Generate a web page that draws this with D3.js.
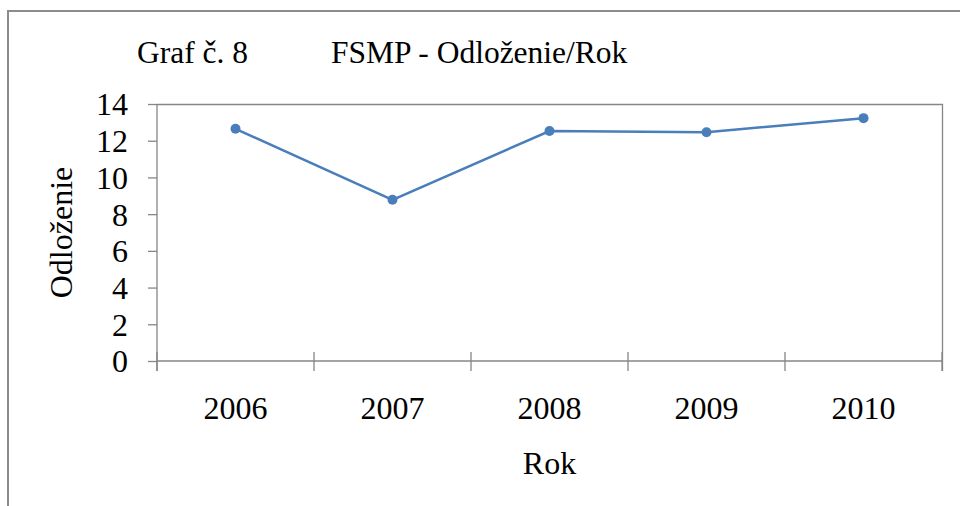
<!DOCTYPE html>
<html>
<head>
<meta charset="utf-8">
<title>graf8</title>
<script src="https://d3js.org/d3.v7.min.js"></script>
<style>
  body { margin: 0; background: #fff; }
  text { font-family: "Liberation Serif", "Times New Roman", serif; fill: #000; }
</style>
</head>
<body>
<svg width="960" height="506" id="mainsvg"></svg>
<script>
  const years = ['2006', '2007', '2008', '2009', '2010'];
  const values = [12.65, 8.78, 12.53, 12.46, 13.23];
  const yTicks = [0, 2, 4, 6, 8, 10, 12, 14];

  const svg = d3.select('#mainsvg');
  const margin = { top: 104, left: 157, right: 18, bottom: 145 };
  const width = 960 - margin.left - margin.right;
  const height = 506 - margin.top - margin.bottom;
  const axisColor = '#868686';
  const lineColor = '#4a7ebb';

  // outer chart frame (runs off the picture right and bottom)
  svg.append('rect')
    .attr('x', 8).attr('y', 11)
    .attr('width', 1000).attr('height', 600)
    .attr('fill', 'none')
    .attr('stroke', '#8c8c8c')
    .attr('stroke-width', 2);

  svg.append('text')
    .attr('x', 137).attr('y', 63)
    .style('font-size', '31.5px')
    .text('Graf č. 8');
  svg.append('text')
    .attr('x', 331).attr('y', 63)
    .style('font-size', '31.5px')
    .text('FSMP - Odloženie/Rok');

  const g = svg.append('g')
    .attr('transform', `translate(${margin.left},${margin.top})`);

  const x = d3.scaleBand().domain(years).range([0, width]);
  const y = d3.scaleLinear().domain([0, 14]).range([height, 0]);

  // plot area border (top and right)
  g.append('path')
    .attr('d', `M0,0.5H${width + 0.5}V${height + 10}`)
    .attr('fill', 'none')
    .attr('stroke', axisColor)
    .attr('stroke-width', 1.3);

  // y axis
  const yAxis = g.append('g')
    .call(d3.axisLeft(y).tickValues(yTicks).tickSize(9).tickPadding(20));
  yAxis.select('.domain').remove();
  yAxis.selectAll('line').attr('stroke', axisColor).attr('stroke-width', 1.3);
  yAxis.selectAll('text')
    .style('font-size', '32px')
    .style('font-family', '"Liberation Serif", serif')
    .attr('dy', '0.34em');
  g.append('line')
    .attr('x1', 0).attr('x2', 0)
    .attr('y1', 0).attr('y2', height + 10)
    .attr('stroke', axisColor).attr('stroke-width', 1.3);

  // x axis: crossing ticks at band boundaries
  g.append('line')
    .attr('x1', 0).attr('x2', width)
    .attr('y1', height).attr('y2', height)
    .attr('stroke', axisColor).attr('stroke-width', 1.3);
  const bounds = years.map(d => x(d)).concat([width]);
  g.selectAll('.xtick').data(bounds).enter().append('line')
    .attr('class', 'xtick')
    .attr('x1', d => d).attr('x2', d => d)
    .attr('y1', height - 9).attr('y2', height + 10)
    .attr('stroke', axisColor).attr('stroke-width', 1.3);
  g.selectAll('.xlab').data(years).enter().append('text')
    .attr('class', 'xlab')
    .attr('x', d => x(d) + x.bandwidth() / 2)
    .attr('y', height + 58)
    .attr('text-anchor', 'middle')
    .style('font-size', '32px')
    .text(d => d);

  // axis titles
  svg.append('text')
    .attr('x', margin.left + width / 2).attr('y', 474)
    .attr('text-anchor', 'middle')
    .style('font-size', '32px')
    .text('Rok');
  svg.append('text')
    .attr('transform', `translate(72,${margin.top + height / 2}) rotate(-90)`)
    .attr('text-anchor', 'middle')
    .style('font-size', '32px')
    .text('Odloženie');

  // series
  const pts = years.map((d, i) => ({ year: d, v: values[i] }));
  const line = d3.line()
    .x(d => x(d.year) + x.bandwidth() / 2)
    .y(d => y(d.v));
  g.append('path')
    .datum(pts)
    .attr('d', line)
    .attr('fill', 'none')
    .attr('stroke', lineColor)
    .attr('stroke-width', 2.5);
  g.selectAll('.dot').data(pts).enter().append('circle')
    .attr('class', 'dot')
    .attr('cx', d => x(d.year) + x.bandwidth() / 2)
    .attr('cy', d => y(d.v))
    .attr('r', 5)
    .attr('fill', lineColor);
</script>
</body>
</html>
